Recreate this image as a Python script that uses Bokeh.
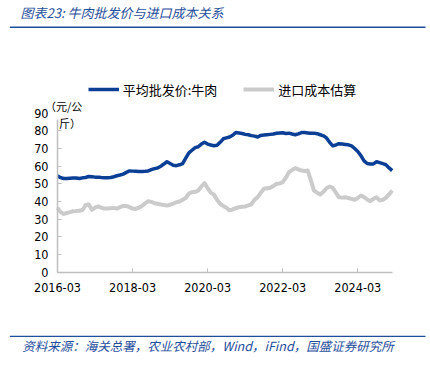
from bokeh.plotting import figure
from bokeh.models import Range1d, FixedTicker, Legend, LegendItem, Label, BoxAnnotation
from bokeh.embed import file_html
from bokeh.resources import INLINE

# ---- data (monthly, 2016-03 .. 2025-02) ----
wholesale_beef = [
    54.5, 53.5, 53.0, 53.0, 53.2, 53.3, 53.3, 53.0, 53.4, 53.6, 54.2, 54.0,
    53.8, 53.8, 53.6, 53.5, 53.4, 53.6, 54.0, 54.6, 55.0, 55.5, 56.5, 57.3,
    57.2, 57.1, 57.0, 57.0, 57.1, 57.3, 58.0, 58.6, 59.0, 60.0, 61.2, 62.5,
    61.5, 60.5, 60.3, 60.8, 61.5, 64.5, 67.5, 69.0, 70.5, 71.0, 72.5, 73.5,
    72.5, 72.0, 71.6, 71.8, 73.5, 75.5, 76.0, 76.5, 77.5, 79.0, 78.8, 78.5,
    78.0, 77.8, 77.3, 77.0, 76.5, 77.4, 77.6, 77.8, 78.0, 78.2, 78.6, 78.8,
    78.9, 78.5, 78.7, 78.2, 77.8, 78.3, 79.0, 79.0, 78.8, 78.6, 78.7, 78.4,
    77.8, 77.2, 76.0, 73.5, 71.5, 72.0, 72.7, 72.5, 72.3, 72.1, 71.5, 70.0,
    68.3, 66.0, 63.0, 61.5, 61.2, 61.3, 62.5, 62.0, 61.4, 60.8, 59.0, 57.5,
]
import_cost = [
    36.4, 34.0, 33.0, 33.5, 34.0, 34.5, 34.6, 34.8, 35.2, 38.0, 38.3, 35.3,
    36.5, 37.2, 36.5, 36.0, 36.0, 36.2, 36.4, 36.0, 36.8, 37.5, 37.5, 36.8,
    36.0, 35.8, 36.5, 37.5, 39.0, 40.2, 39.8, 39.0, 38.7, 38.3, 38.0, 37.7,
    38.2, 38.8, 39.6, 40.0, 41.0, 42.0, 44.5, 45.3, 45.5, 46.2, 48.5, 50.4,
    47.5, 45.0, 44.0, 41.0, 38.7, 37.5, 36.5, 35.0, 35.5, 36.2, 36.8, 37.0,
    37.2, 37.8, 38.5, 41.0, 42.5, 45.0, 47.2, 47.5, 47.8, 48.8, 50.0, 50.2,
    51.0, 53.5, 56.6, 57.8, 58.9, 58.2, 57.5, 57.3, 57.5, 52.0, 46.2, 45.0,
    44.0, 45.5, 47.5, 48.5, 47.8, 45.0, 42.4, 42.2, 42.4, 42.0, 41.5, 41.0,
    42.0, 43.4, 42.5, 41.2, 40.2, 41.5, 42.4, 40.6, 41.0, 42.1, 44.0, 46.2,
]
month_index = list(range(len(wholesale_beef)))
x_tick_positions = [0, 24, 48, 72, 96]
x_tick_labels = ["2016-03", "2018-03", "2020-03", "2022-03", "2024-03"]
y_ticks = [0, 10, 20, 30, 40, 50, 60, 70, 80, 90]
series_names = ["平均批发价:牛肉", "进口成本估算"]

# ---- layout constants (pixels) ----
W, H = 430, 365
X0_PX, PX_PER_MONTH = 57.0, 3.128     # x pixel of first month, pixels per month
Y0_PX, PX_PER_UNIT = 271.7, 1.767     # y pixel of value 0, pixels per unit

BLUE = "#0B3F96"
GRAY = "#CBCBCB"
TEXT_BLUE = "#1F4E9C"
CJK = "Noto Sans CJK SC"
NUM = "DejaVu Sans Condensed"

x_start = -X0_PX / PX_PER_MONTH
x_end = (W - X0_PX) / PX_PER_MONTH
y_start = -(H - Y0_PX) / PX_PER_UNIT
y_end = Y0_PX / PX_PER_UNIT

p = figure(width=W, height=H, output_backend="svg", toolbar_location=None,
           x_range=Range1d(x_start, x_end), y_range=Range1d(y_start, y_end),
           min_border=0)
p.outline_line_color = None
p.xgrid.visible = False
p.ygrid.visible = False
p.background_fill_color = "white"
p.border_fill_color = "white"

r1 = p.line(month_index, wholesale_beef, line_color=BLUE, line_width=3.5, line_join="round")
r2 = p.line(month_index, import_cost, line_color=GRAY, line_width=4, line_join="round")

for ax in (p.xaxis[0], p.yaxis[0]):
    ax.fixed_location = 0
    ax.axis_line_color = "#BFBFBF"
    ax.axis_line_width = 1.5
    ax.major_tick_line_color = "#BFBFBF"
    ax.major_tick_in = 4
    ax.major_tick_out = 0
    ax.minor_tick_line_color = None
    ax.major_label_text_font = NUM
    ax.major_label_text_font_size = "12.5px"
    ax.major_label_text_color = "black"

p.xaxis.ticker = FixedTicker(ticks=x_tick_positions)
p.xaxis.major_label_overrides = {k: v for k, v in zip(x_tick_positions, x_tick_labels)}
p.xaxis.major_label_standoff = 11
p.xaxis.bounds = (0, len(month_index) - 1)
p.yaxis.ticker = FixedTicker(ticks=y_ticks)
p.yaxis.major_label_standoff = 9
p.yaxis.bounds = (0, 90)

def sy(page_y):
    return H - page_y

legend = Legend(items=[LegendItem(label=series_names[0], renderers=[r1]),
                       LegendItem(label=series_names[1], renderers=[r2])],
                orientation="horizontal", location=(87.7, sy(99.3)),
                glyph_width=31, glyph_height=20, label_height=20, label_standoff=4,
                spacing=26, padding=0, margin=0,
                border_line_color=None, background_fill_alpha=0,
                label_text_font=CJK, label_text_font_size="13px", label_text_color="black")
p.add_layout(legend, "center")

# unit label (white box hides the top of the axis as in the reference)
p.add_layout(BoxAnnotation(left=50, right=86, bottom=sy(119), top=sy(96),
                           left_units="screen", right_units="screen",
                           bottom_units="screen", top_units="screen",
                           fill_color="white", fill_alpha=1, line_color=None))
p.add_layout(Label(x=44.5, y=sy(105.3), x_units="screen", y_units="screen", text="（元/公",
                   text_font=CJK, text_font_size="11px", text_baseline="middle", text_color="black"))
p.add_layout(Label(x=58.5, y=sy(122.2), x_units="screen", y_units="screen", text="斤）",
                   text_font=CJK, text_font_size="11px", text_baseline="middle", text_color="black"))

# title and source
p.add_layout(Label(x=20, y=sy(12.3), x_units="screen", y_units="screen",
                   text="图表23:  牛肉批发价与进口成本关系",
                   text_font=CJK, text_font_size="13px", text_font_style="italic",
                   text_baseline="middle", text_color=TEXT_BLUE))
p.add_layout(Label(x=21.7, y=sy(345), x_units="screen", y_units="screen",
                   text="资料来源：海关总署，农业农村部，Wind，iFind，国盛证券研究所",
                   text_font=CJK, text_font_size="12.5px", text_font_style="italic",
                   text_baseline="middle", text_color=TEXT_BLUE))

# horizontal rules
for top_y, bot_y in ((26.0, 27.4), (335.2, 336.6)):
    p.add_layout(BoxAnnotation(left=9.3, right=425, bottom=sy(bot_y), top=sy(top_y),
                               left_units="screen", right_units="screen",
                               bottom_units="screen", top_units="screen",
                               fill_color=TEXT_BLUE, fill_alpha=1, line_color=None))

open("out.html", "w").write(file_html(p, INLINE))
